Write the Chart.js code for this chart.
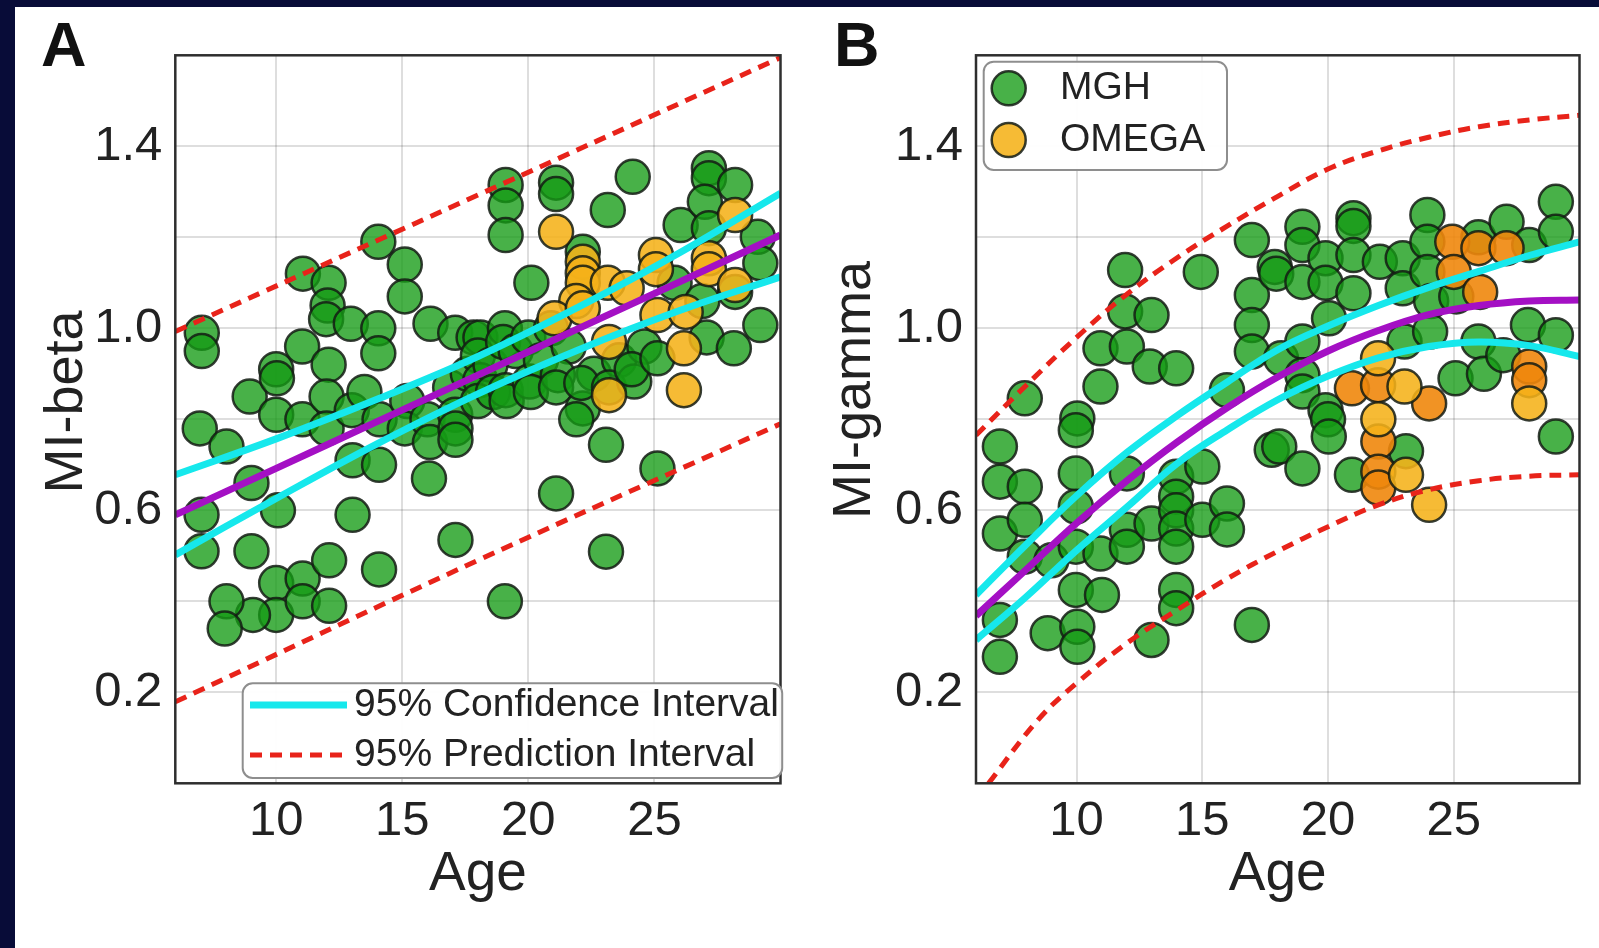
<!DOCTYPE html>
<html>
<head>
<meta charset="utf-8">
<script src="https://cdn.jsdelivr.net/npm/chart.js@4.4.1/dist/chart.umd.min.js"></script>
<style>
  html, body { margin: 0; padding: 0; background: #fff; }
  body { width: 1599px; height: 948px; position: relative; overflow: hidden; }
  .barTop { position: absolute; left: 0; top: 0; width: 1599px; height: 7px; background: #080c38; }
  .barLeft { position: absolute; left: 0; top: 0; width: 15px; height: 948px; background: #080c38; }
  #chartA { position: absolute; left: 15px; top: 7px; }
  #chartB { position: absolute; left: 800px; top: 7px; }
</style>
</head>
<body>
<div class="barTop"></div>
<div class="barLeft"></div>
<canvas id="chartA" width="785" height="941"></canvas>
<canvas id="chartB" width="799" height="941"></canvas>
<script>
const FONT = '"Liberation Sans", Arial, Helvetica, sans-serif';

// axes
const xTicks = [10, 15, 20, 25];
const yGrid = [0.2, 0.4, 0.6, 0.8, 1.0, 1.2, 1.4];
const yTickLabels = { '0.2': '0.2', '0.6': '0.6', '1.0': '1.0', '1.4': '1.4' };

// panel A: MI-beta vs age  [age, value]
const mghA = [
  [7.05,0.99],[7.05,0.95],[6.97,0.78],[8.03,0.74],[9.02,0.66],[7.04,0.59],[7.04,0.51],[9.02,0.51],[8.95,0.85],
  [10.0,0.91],[10.03,0.89],[10.0,0.81],[10.07,0.60],[10.0,0.44],[10.0,0.37],[9.08,0.37],[8.03,0.40],[7.96,0.34],
  [11.06,1.12],[11.03,0.96],[11.04,0.80],[11.05,0.45],[11.05,0.40],
  [12.08,1.10],[12.04,1.05],[11.98,1.02],[12.08,0.92],[12.0,0.85],[12.0,0.78],[12.1,0.49],[12.1,0.39],
  [12.96,1.01],[13.0,0.82],[13.03,0.71],[13.03,0.59],[13.5,0.86],
  [14.05,1.19],[14.05,1.0],[14.05,0.945],[14.1,0.80],[14.08,0.70],[14.08,0.47],
  [15.1,1.14],[15.1,1.07],[15.2,0.84],[15.1,0.78],
  [16.12,1.01],[16.0,0.80],[16.1,0.75],[16.06,0.67],
  [17.1,0.99],[16.9,0.87],[17.1,0.81],[17.11,0.78],[17.11,0.755],[17.11,0.535],[17.6,0.90],
  [17.83,0.98],[18.1,0.98],[18.0,0.94],[18.1,0.886],[18.0,0.84],[18.5,0.92],[18.6,0.86],
  [19.1,1.315],[19.1,1.27],[19.1,1.205],[19.07,1.0],[19.0,0.97],[19.5,0.95],[19.1,0.864],[19.14,0.84],[19.07,0.40],
  [20.12,1.10],[20.05,0.883],[20.0,0.98],[20.5,0.93],[20.1,0.86],[20.9,1.0],
  [21.1,1.32],[21.1,1.295],[21.6,0.96],[21.17,0.897],[21.1,0.87],[21.1,0.637],
  [22.16,1.168],[22.6,0.90],[22.16,0.824],[21.9,0.80],[22.1,0.88],
  [23.15,1.26],[23.6,0.93],[23.2,0.87],[23.08,0.744],[23.08,0.509],
  [24.14,1.333],[24.6,0.96],[24.2,0.883],[24.1,0.91],
  [25.12,0.934],[25.12,0.692],[25.8,1.10],
  [26.04,1.227],[26.9,1.06],
  [27.16,1.352],[27.16,1.33],[27.0,1.278],[27.16,1.22],[27.07,0.98],
  [28.2,1.315],[28.2,1.08],[28.15,0.956],
  [29.1,1.201],[29.2,1.143],[29.2,1.007]
];
const omegaA = [
  [21.1,1.212],[22.16,1.146],[22.16,1.121],[22.16,1.10],[21.9,1.06],[21.04,1.022],[22.16,1.044],
  [23.15,1.10],[23.9,1.088],[23.2,0.97],[23.2,0.853],
  [25.06,1.161],[25.06,1.13],[25.12,1.029],[26.24,1.036],[26.17,0.956],[26.17,0.864],
  [27.16,1.154],[27.16,1.13],[28.2,1.095],[28.2,1.249]
];
const fitA = [[6,0.59],[10,0.692],[14,0.795],[18,0.897],[22,1.0],[26,1.102],[30,1.205]];
const ciUpA = [[6,0.678],[10,0.757],[14,0.844],[18,0.938],[22,1.047],[26,1.166],[30,1.297]];
const ciLoA = [[6,0.502],[10,0.626],[14,0.746],[18,0.856],[22,0.953],[26,1.039],[30,1.113]];
const piUpA = [[6,0.993],[18,1.293],[30,1.595]];
const piLoA = [[6,0.179],[18,0.49],[30,0.79]];

// panel B: MI-gamma vs age
const mghB = [
  [6.95,0.74],[6.95,0.663],[6.95,0.549],[6.95,0.359],[6.95,0.278],
  [7.94,0.846],[7.94,0.652],[7.94,0.579],[7.94,0.498],[8.85,0.33],[9.0,0.49],
  [10.03,0.802],[9.97,0.776],[9.97,0.681],[9.97,0.608],[9.97,0.52],[9.97,0.425],[10.03,0.344],[10.03,0.3],
  [10.95,0.956],[10.95,0.872],[10.95,0.505],[11.01,0.414],
  [11.93,1.128],[11.93,1.037],[12.0,0.96],[12.0,0.681],[12.0,0.557],[12.0,0.52],
  [12.98,1.029],[12.91,0.916],[12.98,0.571],[12.98,0.315],
  [13.96,0.912],[13.96,0.674],[13.96,0.63],[13.96,0.60],[13.96,0.56],[13.96,0.52],[13.96,0.425],[13.96,0.385],
  [14.94,1.124],[15.0,0.696],[15.0,0.579],
  [15.98,0.864],[15.98,0.615],[15.98,0.558],
  [16.97,1.194],[16.97,1.073],[16.97,1.007],[16.97,0.949],[16.97,0.348],
  [17.88,1.135],[17.94,1.12],[18.13,0.934],[17.76,0.733],[18.06,0.74],
  [18.98,1.223],[18.98,1.183],[18.98,1.102],[18.98,0.971],[18.98,0.897],[18.98,0.861],[18.98,0.692],
  [19.9,1.154],[19.9,1.10],[20.04,1.022],[19.9,0.82],[20.0,0.80],[20.03,0.762],
  [21.01,1.242],[21.01,1.225],[21.01,1.161],[21.01,1.077],[20.95,0.678],
  [22.06,1.146],[22.97,1.154],[22.97,1.088],[23.04,0.971],[23.1,0.73],
  [23.95,1.249],[23.95,1.19],[23.95,1.124],[24.1,1.06],[24.06,0.993],
  [25.98,1.2],[25.1,1.07],[25.07,0.89],[25.98,0.971],[26.2,0.9],
  [27.1,1.234],[26.97,0.941],
  [28.0,1.183],[27.95,1.007],
  [29.06,1.278],[29.06,1.212],[29.06,0.985],[29.06,0.762]
];
const omegaB = [[21.99,0.934],[23.04,0.872],[22.0,0.80],[23.1,0.678],[24.02,0.612],[28.0,0.835]];
const omegaBOrange = [
  [24.94,1.19],[25.98,1.176],[27.1,1.176],[25.0,1.124],[26.05,1.08],[20.95,0.868],[21.99,0.875],
  [24.02,0.835],[28.0,0.916],[28.0,0.886],[22.0,0.751],[22.0,0.685],[22.0,0.65]
];
const fitB = [[6,0.368],[8,0.47],[10,0.572],[12,0.665],[14,0.75],[16,0.826],[18,0.893],[20,0.95],[22,0.995],[24,1.03],[26,1.05],[28,1.06],[30,1.062]];
const ciUpB = [[6,0.414],[8,0.525],[10,0.632],[12,0.727],[14,0.808],[16,0.882],[18,0.953],[20,1.005],[22,1.05],[24,1.09],[26,1.125],[28,1.16],[30,1.19]];
const ciLoB = [[6,0.315],[8,0.41],[10,0.512],[12,0.607],[14,0.703],[16,0.777],[18,0.843],[20,0.895],[22,0.935],[24,0.96],[26,0.97],[28,0.962],[30,0.938]];
const piUpB = [[6,0.765],[8,0.875],[10,0.98],[12,1.075],[14,1.155],[16,1.225],[18,1.29],[20,1.35],[22,1.39],[24,1.42],[26,1.443],[28,1.458],[30,1.468]];
const piLoB = [[6.5,0.0],[8.46,0.139],[10,0.22],[12,0.308],[14,0.381],[16,0.45],[18,0.51],[20,0.564],[22,0.612],[24,0.645],[26,0.665],[28,0.675],[30,0.678]];

const GREEN = 'rgba(20,155,20,0.78)';
const YELLOW = 'rgba(245,178,25,0.88)';
const ORANGE = 'rgba(240,135,12,0.9)';
const EDGE = 'rgba(20,28,20,0.85)';
const CYAN = '#16e8ec';
const PURPLE = '#a410c4';
const RED = '#e8231a';

function pts(pairs) { return pairs.map(p => ({ x: p[0], y: p[1] })); }

function curve(label, pairs, color, width, dash) {
  return {
    label, data: pts(pairs), showLine: true, borderColor: color, borderWidth: width,
    borderDash: dash, tension: 0.4, pointRadius: 0, pointHoverRadius: 0, order: 0
  };
}
function dots(label, pairs, fill, order) {
  return {
    label, data: pts(pairs), backgroundColor: fill, borderColor: EDGE, borderWidth: 2.5,
    pointRadius: 17, pointHoverRadius: 17, order
  };
}

const panelDecor = {
  id: 'panelDecor',
  afterDatasetsDraw(chart, args, o) {
    const ctx = chart.ctx, a = chart.chartArea;
    ctx.save();
    ctx.strokeStyle = '#2e2e2e';
    ctx.lineWidth = 2.5;
    ctx.strokeRect(a.left, a.top, a.right - a.left, a.bottom - a.top);

    // panel letter
    ctx.fillStyle = '#111';
    ctx.font = 'bold 63px ' + FONT;
    ctx.textBaseline = 'alphabetic';
    ctx.textAlign = 'left';
    ctx.fillText(o.letter, o.letterX, o.letterY);

    // y axis title
    ctx.save();
    ctx.translate(o.yTitleX, o.yTitleY);
    ctx.rotate(-Math.PI / 2);
    ctx.textAlign = 'center';
    ctx.fillStyle = '#222';
    ctx.font = '54px ' + FONT;
    ctx.fillText(o.yTitle, 0, 0);
    ctx.restore();

    // legend box
    const L = o.legend;
    ctx.beginPath();
    ctx.roundRect(L.x, L.y, L.w, L.h, 10);
    ctx.fillStyle = 'rgba(255,255,255,0.96)';
    ctx.fill();
    ctx.strokeStyle = '#8e8e8e';
    ctx.lineWidth = 2;
    ctx.stroke();
    ctx.font = '39px ' + FONT;
    ctx.textBaseline = 'middle';
    ctx.textAlign = 'left';
    L.items.forEach((label, i) => {
      const ds = chart.data.datasets.find(d => d.label === label);
      const cy = L.rowY[i];
      ctx.save();
      if (L.kind === 'line') {
        ctx.strokeStyle = ds.borderColor;
        ctx.lineWidth = ds.borderWidth;
        ctx.setLineDash(ds.borderDash || []);
        ctx.beginPath();
        ctx.moveTo(L.sx0, cy);
        ctx.lineTo(L.sx1, cy);
        ctx.stroke();
      } else {
        ctx.beginPath();
        ctx.arc(L.sx0, cy, ds.pointRadius, 0, Math.PI * 2);
        ctx.fillStyle = ds.backgroundColor;
        ctx.fill();
        ctx.strokeStyle = ds.borderColor;
        ctx.lineWidth = ds.borderWidth;
        ctx.stroke();
      }
      ctx.restore();
      ctx.fillStyle = '#222';
      ctx.fillText(label, L.tx, cy);
    });
    ctx.restore();
  }
};

function makePanel(id, datasets, yWidth, padRight, decor) {
  return new Chart(document.getElementById(id), {
    type: 'scatter',
    data: { datasets },
    options: {
      responsive: false,
      animation: false,
      layout: { padding: { top: 48.3, right: padRight, left: 0, bottom: 0 } },
      plugins: { legend: { display: false }, tooltip: { enabled: false }, panelDecor: decor },
      scales: {
        x: {
          type: 'linear', min: 6, max: 30,
          afterBuildTicks: ax => { ax.ticks = xTicks.map(v => ({ value: v })); },
          afterFit: ax => { ax.height = 164.7; },
          grid: { color: 'rgba(0,0,0,0.13)', lineWidth: 2, drawTicks: false },
          border: { display: false },
          ticks: { font: { family: FONT, size: 49 }, color: '#222', padding: 9, maxRotation: 0, autoSkip: false,
                   callback: v => String(v) },
          title: { display: true, text: 'Age', color: '#222', font: { family: FONT, size: 55 },
                   padding: { top: 0, bottom: 40 } }
        },
        y: {
          type: 'linear', min: 0, max: 1.6,
          afterBuildTicks: ax => { ax.ticks = yGrid.map(v => ({ value: v })); },
          afterFit: ax => { ax.width = yWidth; },
          grid: { color: 'rgba(0,0,0,0.13)', lineWidth: 2, drawTicks: false },
          border: { display: false },
          ticks: { font: { family: FONT, size: 49 }, color: '#222', padding: 13, autoSkip: false,
                   callback: v => yTickLabels[v.toFixed(1)] || '' },
          title: { display: false }
        }
      }
    },
    plugins: [panelDecor]
  });
}

makePanel('chartA', [
  curve('95% Prediction Interval', piUpA, RED, 5, [12, 8]),
  curve('pi-low', piLoA, RED, 5, [12, 8]),
  curve('95% Confidence Interval', ciUpA, CYAN, 7, []),
  curve('ci-low', ciLoA, CYAN, 7, []),
  curve('fit', fitA, PURPLE, 7, []),
  dots('OMEGA', omegaA, YELLOW, 1),
  dots('MGH', mghA, GREEN, 2)
], 160.3, 16.7, {
  letter: 'A', letterX: 26, letterY: 59,
  yTitle: 'MI-beta', yTitleX: 66.5, yTitleY: 395,
  legend: { kind: 'line', x: 227.7, y: 676.3, w: 539.5, h: 94.7, rowY: [698, 748], sx0: 235, sx1: 332, tx: 339,
            items: ['95% Confidence Interval', '95% Prediction Interval'] }
});

makePanel('chartB', [
  curve('95% Prediction Interval', piUpB, RED, 5, [12, 8]),
  curve('pi-low', piLoB, RED, 5, [12, 8]),
  curve('95% Confidence Interval', ciUpB, CYAN, 7, []),
  curve('ci-low', ciLoB, CYAN, 7, []),
  curve('fit', fitB, PURPLE, 7, []),
  dots('OMEGA', omegaB, YELLOW, 1),
  dots('OMEGA-orange', omegaBOrange, ORANGE, 1),
  dots('MGH', mghB, GREEN, 2)
], 176, 11.6, {
  letter: 'B', letterX: 34, letterY: 59,
  yTitle: 'MI-gamma', yTitleX: 70, yTitleY: 383,
  legend: { kind: 'dot', x: 183.7, y: 54.7, w: 243.3, h: 108.3, rowY: [81.3, 133], sx0: 208.7, tx: 260,
            items: ['MGH', 'OMEGA'] }
});
</script>
</body>
</html>
